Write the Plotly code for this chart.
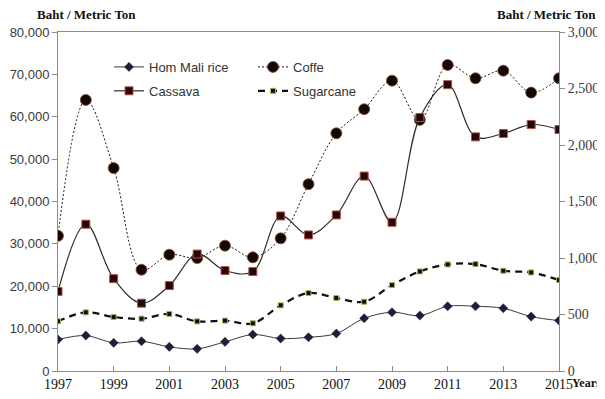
import plotly.graph_objects as go

years = list(range(1997, 2016))

# Baht / Metric Ton (left axis)
hom_mali_rice = [7420, 8360, 6640, 7020, 5700, 5230, 6880, 8600, 7660, 7960,
                 8840, 12440, 13860, 13080, 15270, 15270, 14800, 12840, 11900]
coffe = [31900, 63970, 47880, 23900, 27450, 26670, 29570, 26820, 31300, 44100,
         56100, 61780, 68520, 59260, 72220, 69080, 70880, 65700, 69080]

# Baht / Metric Ton (right axis)
cassava = [704, 1299, 817, 600, 756, 1035, 889, 880, 1372, 1204,
           1381, 1725, 1316, 2243, 2534, 2072, 2102, 2181, 2137]
sugarcane = [440, 519, 478, 463, 505, 439, 446, 422, 581, 690,
             646, 613, 760, 881, 943, 946, 887, 872, 805]

x_ticks = list(range(1997, 2016, 2))
left_ticks = list(range(0, 80001, 10000))
right_ticks = list(range(0, 3001, 500))

fig = go.Figure()

fig.add_trace(go.Scatter(
    x=years, y=hom_mali_rice, name="Hom Mali rice", mode="lines+markers",
    line=dict(color="#3a3a3a", width=1, shape="spline", smoothing=1),
    marker=dict(symbol="diamond", size=7, color="#1b1f3a",
                line=dict(color="#1b1f3a", width=0.5)),
    legend="legend", legendgroup="g1"))

fig.add_trace(go.Scatter(
    x=years, y=cassava, name="Cassava", mode="lines+markers", yaxis="y2",
    line=dict(color="#2e2e2e", width=1.2, shape="spline", smoothing=1),
    marker=dict(symbol="square", size=8, color="#240808",
                line=dict(color="#b5504a", width=1)),
    legend="legend", legendgroup="g2"))

fig.add_trace(go.Scatter(
    x=years, y=coffe, name="Coffe", mode="lines+markers",
    line=dict(color="#1a1a1a", width=1, dash="2px,2px", shape="spline", smoothing=1),
    marker=dict(symbol="circle", size=11, color="#120806",
                line=dict(color="#8b4a2b", width=0.8)),
    legend="legend2", legendgroup="g3"))

fig.add_trace(go.Scatter(
    x=years, y=sugarcane, name="Sugarcane", mode="lines+markers", yaxis="y2",
    line=dict(color="#111111", width=2.2, dash="7px,5px", shape="spline", smoothing=1),
    marker=dict(symbol="square", size=5, color="#111111",
                line=dict(color="#9bbb59", width=1)),
    legend="legend2", legendgroup="g4"))

axis_gray = "#8c8c8c"
serif = "Liberation Serif, Times New Roman, serif"
sans = "Liberation Sans, Arial, sans-serif"

# The page body has an 8px default margin; the figure is sized to fit inside it.
OFF = 8
W, H = 605 - OFF, 399 - OFF
L, T = 58 - OFF, 32 - OFF
R = W - (559 - OFF)
B = H - (371.5 - OFF)
pw, ph = W - L - R, H - T - B


def px_to_paper(px, py):
    return (px - OFF - L) / pw, 1 - (py - OFF - T) / ph


leg1_x, leg_y = px_to_paper(109, 52)
leg2_x, _ = px_to_paper(253, 52)

ann_specs = [("<b>Baht / Metric Ton</b>", 86, 14, 13, "center"),
             ("<b>Baht / Metric Ton</b>", 546, 14, 13, "center"),
             ("<b>Years</b>", 601, 384, 12, "right")]
annotations = []
for txt, ax_px, ay_px, fs, xa in ann_specs:
    ax, ay = px_to_paper(ax_px, ay_px)
    annotations.append(dict(text=txt, x=ax, y=ay, xref="paper", yref="paper",
                            xanchor=xa, yanchor="middle", showarrow=False,
                            borderpad=0, borderwidth=0,
                            font=dict(family=serif, size=fs, color="#111111")))

fig.update_layout(
    width=W, height=H,
    margin=dict(l=L, r=R, t=T, b=B, autoexpand=False),
    paper_bgcolor="white", plot_bgcolor="white",
    showlegend=True,
    xaxis=dict(range=[1997, 2015], tickvals=x_ticks, showgrid=False, zeroline=False,
               showline=True, linecolor=axis_gray, linewidth=1, mirror=True,
               ticks="inside", ticklen=5, tickcolor=axis_gray,
               tickfont=dict(family=serif, size=14, color="#111111")),
    yaxis=dict(range=[0, 80000], tickvals=left_ticks, tickformat=",", showgrid=False,
               zeroline=False, showline=True, linecolor=axis_gray, linewidth=1,
               ticks="outside", ticklen=5, tickcolor=axis_gray,
               tickfont=dict(family=sans, size=13, color="#3a3a3a")),
    yaxis2=dict(range=[0, 3000], tickvals=right_ticks, tickformat=",", overlaying="y",
                side="right", showgrid=False, zeroline=False, showline=True,
                linecolor=axis_gray, linewidth=1, ticks="outside", ticklen=5,
                tickcolor=axis_gray,
                tickfont=dict(family=serif, size=14, color="#3a3a3a")),
    legend=dict(x=leg1_x, y=leg_y, xanchor="left", yanchor="top", orientation="v",
                itemwidth=30, tracegroupgap=4, bgcolor="rgba(0,0,0,0)",
                font=dict(family=sans, size=13, color="#333333")),
    legend2=dict(x=leg2_x, y=leg_y, xanchor="left", yanchor="top", orientation="v",
                 itemwidth=30, tracegroupgap=4, bgcolor="rgba(0,0,0,0)",
                 font=dict(family=sans, size=13, color="#333333")),
    annotations=annotations,
)

fig.write_html("out.html")
